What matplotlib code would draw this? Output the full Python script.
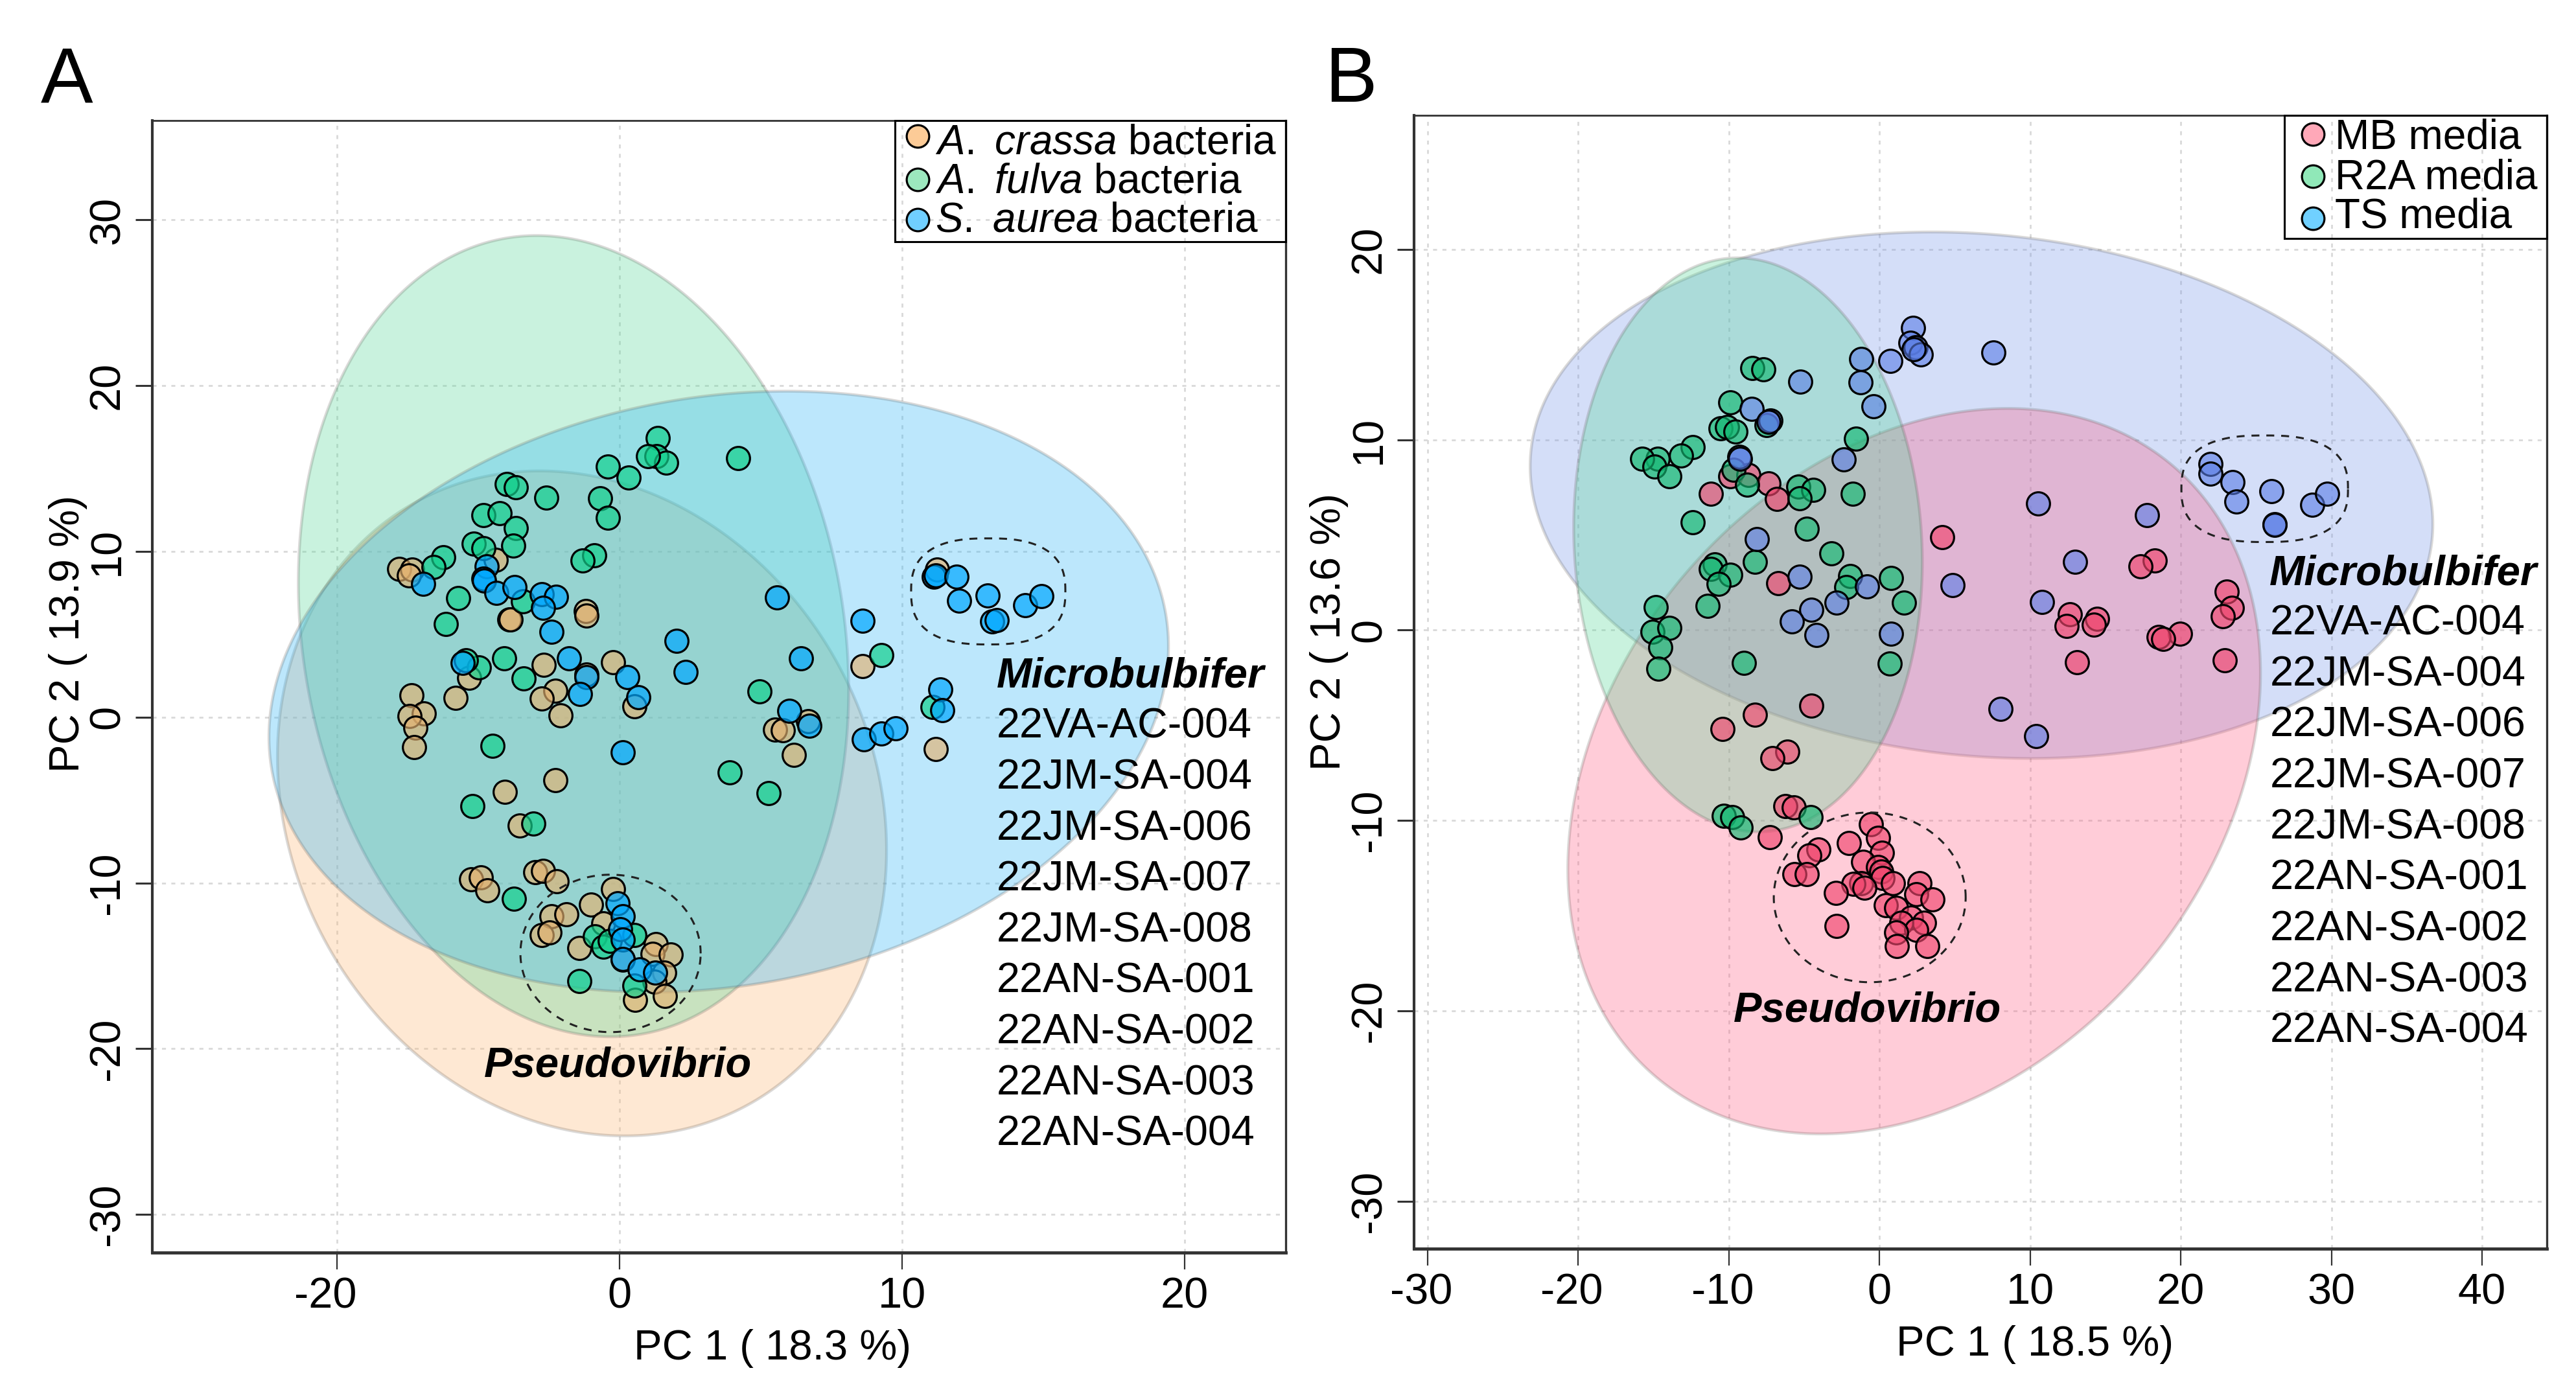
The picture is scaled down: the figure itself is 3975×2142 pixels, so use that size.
import numpy as np
import matplotlib
matplotlib.use("Agg")
import matplotlib.pyplot as plt
from matplotlib.colors import to_rgba
from matplotlib.lines import Line2D
from matplotlib.patches import Rectangle
from matplotlib.transforms import ScaledTranslation

plt.rcParams['font.family'] = ['Liberation Sans', 'DejaVu Sans']
plt.rcParams['mathtext.fontset'] = 'custom'
plt.rcParams['mathtext.rm'] = 'Liberation Sans'
plt.rcParams['mathtext.it'] = 'Liberation Sans:italic'

# panel A, points
a_crassa_x = [-7.8, -7.34, -7.45, -4.38, -1.2, -3.9, -3.86, -1.17, -5.32, -5.81, -2.69, -1.17, -0.23, -2.28,
              -2.75, -2.08, 0.53, -7.37, -6.94, -7.43, -7.23, -7.27, -2.28, -4.06, -3.54, 5.5, -5.26, -4.91,
              -4.68, -2.98, -2.71, -2.22, -0.23, -1.01, -2.4, -1.89, -2.75, -2.48, -0.58, -1.42, 1.29, 1.17,
              1.82, 1.58, 1.23, 0.55, 1.61, 0.12, 8.6, 11.25, 6.68, 5.78, 6.18, 11.19]
a_crassa_y = [8.94, 8.9, 8.56, 9.5, 6.4, 5.9, 5.88, 6.14, 2.39, 1.16, 3.17, 2.56, 3.31, 1.6,
              1.13, 0.12, 0.64, 1.34, 0.24, 0.08, -0.63, -1.8, -3.81, -4.51, -6.52, -0.76, -9.78, -9.66,
              -10.45, -9.37, -9.26, -9.89, -10.36, -11.32, -12.02, -11.9, -13.15, -12.98, -12.45, -13.94, -13.68, -14.29,
              -14.32, -15.42, -15.95, -17.05, -16.82, -14.64, 3.07, 8.92, -0.25, -0.77, -2.26, -1.91]

a_fulva_x = [-4.0, -3.67, -2.6, -4.82, -4.24, -3.67, -3.77, -5.17, -4.82, -6.23, -6.58, -5.72, -0.41, 0.33,
             -0.7, -0.41, -0.9, -1.31, -3.42, -6.14, -4.09, -3.39, -4.97, -5.44, -4.5, 4.95, 3.9, 5.27,
             -5.2, -3.06, -3.74, -1.42, 0.53, -0.87, -0.58, -0.35, 0.53, 1.36, 1.3, 1.65, 1.01, 4.2, 9.26, 11.07]
a_fulva_y = [14.05, 13.89, 13.23, 12.19, 12.29, 11.4, 10.36, 10.46, 10.2, 9.66, 9.06, 7.17, 15.13, 14.45,
             13.19, 12.03, 9.76, 9.44, 7.0, 5.62, 3.56, 2.35, 3.0, 3.43, -1.72, 1.57, -3.34, -4.6,
             -5.38, -6.43, -10.97, -15.9, -16.2, -13.24, -13.85, -13.5, -13.15, 16.86, 15.73, 15.34, 15.73, 15.64, 3.73, 0.62]

s_aurea_x = [-6.96, -4.7, -4.82, -4.8, -4.35, -3.71, -2.75, -2.25, -2.7, -2.4, -1.78, -5.55, -1.17, 0.27, -1.4,
             0.67, 0.12, 2.02, 2.34, -0.06, 0.12, 0.03, 0.12, 0.12, 0.71, 1.26, 5.57, 8.6, 6.43, 6.01, 6.71,
             8.64, 9.26, 9.76, 11.36, 11.42, 11.13, 11.19, 11.93, 12.01, 13.03, 14.35, 14.93, 13.18, 13.35]
s_aurea_y = [8.05, 9.1, 8.34, 8.25, 7.5, 7.87, 7.41, 7.25, 6.6, 5.14, 3.56, 3.26, 2.42, 2.42, 1.39,
             1.22, -2.12, 4.62, 2.74, -11.23, -12.0, -12.8, -13.42, -14.6, -15.2, -15.42, 7.21, 5.81, 3.56, 0.4, -0.51,
             -1.35, -1.0, -0.69, 1.67, 0.41, 8.48, 8.57, 8.48, 7.03, 7.35, 6.77, 7.31, 5.78, 5.86]

# panel B, points
mb_x = [-11.21, -9.9, -8.69, -7.37, -6.82, -6.71, 4.15, -4.52, -8.25, -10.44, -6.1, -7.13, -6.26, -5.71, -7.29,
        -4.06, -4.65, -5.66, -4.83, -0.55, -0.11, 0.18, -2.02, -1.1, -0.11, 0.11, 0.22, -1.21, -1.75, -0.99,
        -2.9, 0.88, 2.64, 2.42, 3.51, 0.44, 1.1, 2.09, 2.97, 1.43, 2.42, 1.1, 1.16, 3.18, -2.85,
        18.28, 17.34, 23.04, 23.38, 22.79, 12.63, 12.44, 14.46, 14.25, 19.94, 18.55, 18.82, 13.12, 22.93]
mb_y = [7.15, 8.07, 8.15, 7.72, 6.9, 2.46, 4.89, -3.96, -4.45, -5.19, -6.37, -6.72, -9.23, -9.3, -10.89,
        -11.54, -11.84, -12.82, -12.82, -10.21, -10.93, -11.71, -11.19, -12.17, -12.43, -12.69, -13.02, -13.28, -13.34, -13.54,
        -13.8, -13.28, -13.28, -13.86, -14.15, -14.45, -14.58, -15.1, -15.36, -15.36, -15.75, -15.89, -16.6, -16.6, -15.56,
        3.66, 3.34, 2.03, 1.16, 0.73, 0.84, 0.23, 0.58, 0.29, -0.18, -0.36, -0.47, -1.7, -1.6]

r2a_x = [-8.43, -7.7, -9.9, -10.56, -10.12, -9.57, -7.48, -1.55, -12.42, -13.19, -14.73, -15.76, -14.94, -13.96,
         -9.68, -8.8, -5.4, -4.41, -5.29, -1.77, -12.38, -4.85, -3.2, -8.25, -10.93, -11.21, -9.9, -10.66,
         -11.43, -1.93, -2.21, 0.75, 1.63, -14.84, -15.05, -13.96, -14.57, -14.68, -9.02, 0.68,
         -10.32, -9.77, -9.22, -4.56]
r2a_y = [13.77, 13.72, 11.98, 10.59, 10.67, 10.45, 10.76, 10.07, 9.63, 9.16, 9.02, 9.02, 8.59, 8.07,
         8.42, 7.63, 7.55, 7.37, 6.94, 7.15, 5.67, 5.34, 4.02, 3.6, 3.46, 3.2, 2.91, 2.42,
         1.29, 2.85, 2.25, 2.73, 1.46, 1.2, -0.1, 0.11, -0.92, -2.01, -1.72, -1.75,
         -9.76, -9.82, -10.37, -9.82]

ts_x = [2.24, 2.07, 2.4, 2.73, 2.29, 0.71, -1.23, -1.27, -0.39, -5.24, -8.47, -7.26, -7.37, -9.3, -9.24, -2.37,
        7.55, -8.14, -5.29, -0.83, -2.87, -4.52, -5.84, -4.19, 0.75, 4.85, 8.02, 10.38,
        21.96, 21.96, 23.44, 23.71, 26.02, 26.21, 26.24, 28.71, 29.7, 10.54, 17.74, 12.96, 10.8]
ts_y = [15.89, 15.11, 14.85, 14.5, 14.76, 14.15, 14.24, 13.02, 11.77, 13.06, 11.63, 11.02, 10.94, 9.11, 9.02, 8.97,
        14.59, 4.77, 2.8, 2.3, 1.43, 1.08, 0.46, -0.24, -0.19, 2.38, -4.15, -5.58,
        8.73, 8.23, 7.79, 6.77, 7.29, 5.57, 5.53, 6.6, 7.18, 6.66, 6.05, 3.6, 1.49]

# ellipses: centre x, centre y, half width, half height, correlation
crassa_ell = [-1.33, -5.2, 10.78, 20.06, -0.14]
fulva_ell = [-1.63, 4.89, 9.74, 24.17, -0.134]
aurea_ell = [3.51, 1.54, 15.92, 18.13, 0.15]
mb_ell = [2.3, -7.41, 22.99, 19.06, 0.27]
r2a_ell = [-8.73, 4.48, 11.57, 15.08, -0.06]
ts_ell = [6.77, 7.09, 29.96, 13.83, -0.11]

a_xticks = [-10, 0, 10, 20]
a_xlabels = ["-20", "0", "10", "20"]
a_yticks = [-30, -20, -10, 0, 10, 20, 30]
b_xticks = [-30, -20, -10, 0, 10, 20, 30, 40]
b_yticks = [-30, -20, -10, 0, 10, 20]

strains = ["22VA-AC-004", "22JM-SA-004", "22JM-SA-006", "22JM-SA-007", "22JM-SA-008",
           "22AN-SA-001", "22AN-SA-002", "22AN-SA-003", "22AN-SA-004"]

W, H = 3975, 2142
fig = plt.figure(figsize=(W / 100, H / 100), dpi=100)


def add_panel(left, top, right, bottom, xlim, ylim, xticks, xlabels, yticks, neg_shift):
    ax = fig.add_axes([left / W, 1 - bottom / H, (right - left) / W, (bottom - top) / H])
    ax.set_xlim(xlim)
    ax.set_ylim(ylim)
    ax.set_xticks(xticks)
    ax.set_xticklabels(xlabels)
    ax.set_yticks(yticks)
    ax.set_yticklabels([str(v) for v in yticks], rotation=90, va="center")
    ax.tick_params(axis="x", length=19, width=1.6, labelsize=48, pad=8, color="#333333")
    ax.tick_params(axis="y", length=19, width=2.2, labelsize=48, pad=8, color="#333333")
    # the negative labels sit a little left of their ticks
    for lab in ax.get_xticklabels():
        if lab.get_text().startswith("-"):
            lab.set_transform(lab.get_transform() + ScaledTranslation(-neg_shift / 100, 0, fig.dpi_scale_trans))
    ax.grid(True, color="#d9d9d9", linewidth=2, linestyle=(0, (2.2, 3)))
    ax.set_axisbelow(True)
    ax.spines["left"].set_linewidth(3)
    ax.spines["bottom"].set_linewidth(3.5)
    ax.spines["top"].set_linewidth(2)
    ax.spines["right"].set_linewidth(2.4)
    for s in ax.spines.values():
        s.set_color("#333333")
    return ax


def ellipse(ax, params, color):
    cx, cy, hx, hy, r = params
    t = np.linspace(0, 2 * np.pi, 400)
    x = cx + hx * np.cos(t)
    y = cy + hy * np.cos(t - np.arccos(r))
    ax.fill(x, y, facecolor=to_rgba(color, 0.3), edgecolor=(0.4, 0.38, 0.36, 0.24), linewidth=3.2, zorder=2)


def dashed_ring(ax, cx, cy, hx, hy, n):
    t = np.linspace(0, 2 * np.pi, 300)
    x = cx + hx * np.sign(np.cos(t)) * np.abs(np.cos(t)) ** (2 / n)
    y = cy + hy * np.sign(np.sin(t)) * np.abs(np.sin(t)) ** (2 / n)
    ax.plot(x, y, color="#222222", linewidth=2.2, linestyle=(0, (4, 3.5)), zorder=6)


def points(ax, x, y, color, alpha):
    ax.scatter(x, y, s=660, facecolor=to_rgba(color, alpha), edgecolor="black", linewidth=2.3, zorder=4)


def labels(ax, micro_xy, first_y, step, pseudo_xy):
    ax.text(micro_xy[0], micro_xy[1], "Microbulbifer", fontsize=47, fontweight="bold", style="italic",
            va="baseline", zorder=7)
    for i, name in enumerate(strains):
        ax.text(micro_xy[0], first_y - i * step, name, fontsize=46.5, va="baseline", zorder=7)
    ax.text(pseudo_xy[0], pseudo_xy[1], "Pseudovibrio", fontsize=47, fontweight="bold", style="italic",
            va="baseline", zorder=7)


def key_box(left, top, right, bottom, mark_x, mark_y, text_x, text_y, names, colors):
    # legend drawn by hand, its rows are tighter than ax.legend allows
    fig.add_artist(Rectangle((left / W, 1 - bottom / H), (right - left) / W, (bottom - top) / H,
                             transform=fig.transFigure, facecolor="none", edgecolor="black", linewidth=2.2))
    for my, ty, name, c in zip(mark_y, text_y, names, colors):
        fig.add_artist(Line2D([mark_x / W], [1 - my / H], transform=fig.transFigure, linestyle="none", marker="o",
                              markersize=25, markerfacecolor=c, markeredgecolor="black", markeredgewidth=2.3))
        fig.text(text_x / W, 1 - ty / H, name, fontsize=46, va="baseline")


# --- panel A ---
ax1 = add_panel(235, 186, 1984, 1933, (-16.54, 23.58), (-32.3, 36.0), a_xticks, a_xlabels, a_yticks, 18)
ellipse(ax1, crassa_ell, (252 / 255, 182 / 255, 112 / 255))
ellipse(ax1, fulva_ell, (78 / 255, 215 / 255, 148 / 255))
ellipse(ax1, aurea_ell, (35 / 255, 178 / 255, 248 / 255))
points(ax1, a_crassa_x, a_crassa_y, (228 / 255, 178 / 255, 112 / 255), 0.65)
points(ax1, a_fulva_x, a_fulva_y, (19 / 255, 208 / 255, 141 / 255), 0.7)
points(ax1, s_aurea_x, s_aurea_y, (0, 168 / 255, 1), 0.7)
dashed_ring(ax1, 13.05, 7.59, 2.73, 3.2, 2.6)
dashed_ring(ax1, -0.32, -14.25, 3.19, 4.75, 2)
labels(ax1, (13.35, 1.8), -1.25, 3.074, (-4.79, -21.7))
key_box(1381, 186, 1984, 373, 1416, [210, 277, 339], 1443, [238, 298, 357],
        [r"$\mathit{A.\ crassa}$ bacteria", r"$\mathit{A.\ fulva}$ bacteria", r"$\mathit{S.\ aurea}$ bacteria"],
        ["#fccb97", "#9ce8be", "#70cfff"])
ax1.set_xlabel("PC 1 ( 18.3 %)", fontsize=47, va="baseline")
ax1.xaxis.set_label_coords(0.547, -0.0944)
ax1.set_ylabel("PC 2 ( 13.9 %)", fontsize=47, va="baseline")
ax1.yaxis.set_label_coords(-0.0646, 0.5466)

# --- panel B ---
ax2 = add_panel(2182, 178, 3930, 1927, (-30.9, 44.3), (-32.5, 27.05), b_xticks, [str(v) for v in b_xticks], b_yticks, 10)
ellipse(ax2, ts_ell, (115 / 255, 148 / 255, 232 / 255))
ellipse(ax2, mb_ell, (255 / 255, 88 / 255, 128 / 255))
ellipse(ax2, r2a_ell, (78 / 255, 215 / 255, 148 / 255))
points(ax2, mb_x, mb_y, (240 / 255, 70 / 255, 110 / 255), 0.65)
points(ax2, r2a_x, r2a_y, (20 / 255, 185 / 255, 115 / 255), 0.65)
points(ax2, ts_x, ts_y, (90 / 255, 125 / 255, 230 / 255), 0.6)
dashed_ring(ax2, 25.57, 7.43, 5.53, 2.8, 2.6)
dashed_ring(ax2, -0.65, -14.04, 6.37, 4.46, 2)
labels(ax2, (25.9, 2.39), -0.24, 2.678, (-9.68, -20.58))
key_box(3525, 178, 3930, 368, 3569, [207, 272, 337], 3603, [230, 292, 351],
        ["MB media", "R2A media", "TS media"], ["#ffa8b8", "#90e8b8", "#70d0ff"])
ax2.set_xlabel("PC 1 ( 18.5 %)", fontsize=47, va="baseline")
ax2.xaxis.set_label_coords(0.5483, -0.0944)
ax2.set_ylabel("PC 2 ( 13.6 %)", fontsize=47, va="baseline")
ax2.yaxis.set_label_coords(-0.0652, 0.5445)

fig.text(63 / W, 1 - 157 / H, "A", fontsize=87, va="baseline")
fig.text(2044 / W, 1 - 157 / H, "B", fontsize=87, va="baseline")

fig.savefig("out.png", dpi=100)
